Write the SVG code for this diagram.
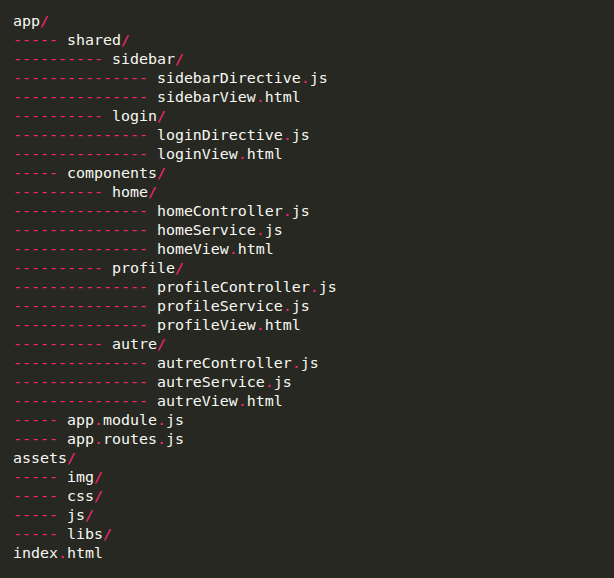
<svg xmlns="http://www.w3.org/2000/svg" width="614" height="578" viewBox="0 0 614 578">
<style>
text{font-family:"DejaVu Sans Mono","Liberation Mono",monospace;font-size:14.95px;fill:#f8f8f2;white-space:pre}
.p{fill:#f92672}
</style>
<rect width="614" height="578" fill="#272822"/>
<g id="tree" xml:space="preserve">
<g id="l1"><text x="13" y="26">app<tspan class="p">/</tspan></text></g>
<g id="l2"><text x="13" y="45"><tspan class="p">-----</tspan> shared<tspan class="p">/</tspan></text></g>
<g id="l3"><text x="13" y="64"><tspan class="p">----------</tspan> sidebar<tspan class="p">/</tspan></text></g>
<g id="l4"><text x="13" y="83"><tspan class="p">---------------</tspan> sidebarDirective<tspan class="p">.</tspan>js</text></g>
<g id="l5"><text x="13" y="102"><tspan class="p">---------------</tspan> sidebarView<tspan class="p">.</tspan>html</text></g>
<g id="l6"><text x="13" y="121"><tspan class="p">----------</tspan> login<tspan class="p">/</tspan></text></g>
<g id="l7"><text x="13" y="140"><tspan class="p">---------------</tspan> loginDirective<tspan class="p">.</tspan>js</text></g>
<g id="l8"><text x="13" y="159"><tspan class="p">---------------</tspan> loginView<tspan class="p">.</tspan>html</text></g>
<g id="l9"><text x="13" y="178"><tspan class="p">-----</tspan> components<tspan class="p">/</tspan></text></g>
<g id="l10"><text x="13" y="197"><tspan class="p">----------</tspan> home<tspan class="p">/</tspan></text></g>
<g id="l11"><text x="13" y="216"><tspan class="p">---------------</tspan> homeController<tspan class="p">.</tspan>js</text></g>
<g id="l12"><text x="13" y="235"><tspan class="p">---------------</tspan> homeService<tspan class="p">.</tspan>js</text></g>
<g id="l13"><text x="13" y="254"><tspan class="p">---------------</tspan> homeView<tspan class="p">.</tspan>html</text></g>
<g id="l14"><text x="13" y="273"><tspan class="p">----------</tspan> profile<tspan class="p">/</tspan></text></g>
<g id="l15"><text x="13" y="292"><tspan class="p">---------------</tspan> profileController<tspan class="p">.</tspan>js</text></g>
<g id="l16"><text x="13" y="311"><tspan class="p">---------------</tspan> profileService<tspan class="p">.</tspan>js</text></g>
<g id="l17"><text x="13" y="330"><tspan class="p">---------------</tspan> profileView<tspan class="p">.</tspan>html</text></g>
<g id="l18"><text x="13" y="349"><tspan class="p">----------</tspan> autre<tspan class="p">/</tspan></text></g>
<g id="l19"><text x="13" y="368"><tspan class="p">---------------</tspan> autreController<tspan class="p">.</tspan>js</text></g>
<g id="l20"><text x="13" y="387"><tspan class="p">---------------</tspan> autreService<tspan class="p">.</tspan>js</text></g>
<g id="l21"><text x="13" y="406"><tspan class="p">---------------</tspan> autreView<tspan class="p">.</tspan>html</text></g>
<g id="l22"><text x="13" y="425"><tspan class="p">-----</tspan> app<tspan class="p">.</tspan>module<tspan class="p">.</tspan>js</text></g>
<g id="l23"><text x="13" y="444"><tspan class="p">-----</tspan> app<tspan class="p">.</tspan>routes<tspan class="p">.</tspan>js</text></g>
<g id="l24"><text x="13" y="463">assets<tspan class="p">/</tspan></text></g>
<g id="l25"><text x="13" y="482"><tspan class="p">-----</tspan> img<tspan class="p">/</tspan></text></g>
<g id="l26"><text x="13" y="501"><tspan class="p">-----</tspan> css<tspan class="p">/</tspan></text></g>
<g id="l27"><text x="13" y="520"><tspan class="p">-----</tspan> js<tspan class="p">/</tspan></text></g>
<g id="l28"><text x="13" y="539"><tspan class="p">-----</tspan> libs<tspan class="p">/</tspan></text></g>
<g id="l29"><text x="13" y="558">index<tspan class="p">.</tspan>html</text></g>
</g>
<g id="connectors"/>
</svg>
